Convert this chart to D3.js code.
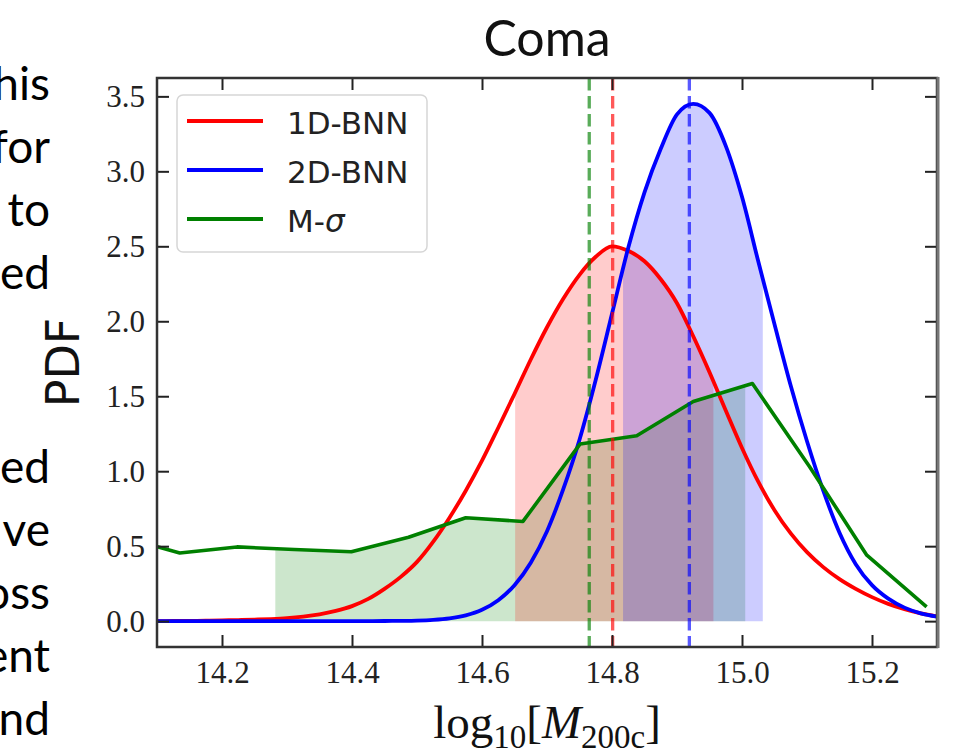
<!DOCTYPE html>
<html>
<head>
<meta charset="utf-8">
<script src="https://cdn.jsdelivr.net/npm/d3@7"></script>
<style>
  html, body { margin: 0; padding: 0; background: #fff; overflow: hidden; }
  svg { display: block; }
</style>
</head>
<body>
<svg id="chart" width="968" height="752"></svg>
<script>
// ---- data ---------------------------------------------------------------
// log10 mass grid shared by the two network posteriors
const massGrid = [
  14.100, 14.125, 14.150, 14.175, 14.200, 14.225, 14.250, 14.275, 14.300, 14.325,
  14.350, 14.375, 14.400, 14.425, 14.450, 14.475, 14.500, 14.525, 14.550, 14.575,
  14.600, 14.625, 14.650, 14.675, 14.700, 14.725, 14.750, 14.775, 14.800, 14.825,
  14.850, 14.875, 14.900, 14.925, 14.950, 14.975, 15.000, 15.025, 15.050, 15.075,
  15.100, 15.125, 15.150, 15.175, 15.200, 15.225, 15.250, 15.275, 15.300
];
// 1D-BNN posterior density
const pdf1D = [
  0.000, 0.001, 0.002, 0.003, 0.005, 0.007, 0.010, 0.014, 0.020, 0.030,
  0.045, 0.068, 0.100, 0.148, 0.215, 0.295, 0.395, 0.530, 0.690, 0.870,
  1.070, 1.290, 1.515, 1.745, 1.960, 2.150, 2.310, 2.430, 2.500, 2.470,
  2.400, 2.280, 2.120, 1.900, 1.660, 1.405, 1.155, 0.930, 0.740, 0.585,
  0.460, 0.360, 0.280, 0.215, 0.160, 0.115, 0.080, 0.052, 0.032
];
// 2D-BNN posterior density
const pdf2D = [
  0.000, 0.000, 0.000, 0.000, 0.000, 0.000, 0.000, 0.000, 0.000, 0.000,
  0.000, 0.000, 0.000, 0.000, 0.001, 0.002, 0.004, 0.009, 0.019, 0.039,
  0.076, 0.140, 0.240, 0.390, 0.600, 0.880, 1.210, 1.610, 2.050, 2.490,
  2.860, 3.150, 3.380, 3.450, 3.390, 3.170, 2.830, 2.400, 1.980, 1.570,
  1.200, 0.870, 0.590, 0.380, 0.240, 0.150, 0.090, 0.052, 0.030
];
// M-sigma scaling relation: binned density
const msigmaMass = [14.047, 14.135, 14.223, 14.311, 14.399, 14.487, 14.575, 14.663,
                    14.751, 14.838, 14.925, 15.016, 15.104, 15.192, 15.284];
const msigmaPdf  = [0.560, 0.455, 0.495, 0.478, 0.463, 0.560, 0.690, 0.665,
                    1.182, 1.236, 1.465, 1.585, 1.030, 0.440, 0.095];

// credible intervals [low, high] and point estimates
const band1D = [14.651, 14.956];
const band2D = [14.817, 15.032];
const bandMsigma = [14.282, 15.005];
const median1D = 14.801;
const median2D = 14.919;
const medianMsigma = 14.765;

const seriesNames = ["1D-BNN", "2D-BNN", "M-\u03c3"];
const xTicks = [14.2, 14.4, 14.6, 14.8, 15.0, 15.2];
const yTicks = [0.0, 0.5, 1.0, 1.5, 2.0, 2.5, 3.0, 3.5];
const xDomain = [14.1, 15.3];
const yDomain = [-0.1725, 3.6225];

// surrounding slide text (right-hand ends of justified lines)
const sideWordsTop = ["his", "for", "to", "ed"];
const sideWordsBottom = ["ed", "ve", "oss", "ent", "nd"];

// ---- layout -------------------------------------------------------------
const svg = d3.select("#chart");
const L = 157, R = 937, T = 78, B = 647;
const x = d3.scaleLinear().domain(xDomain).range([L, R]);
const y = d3.scaleLinear().domain(yDomain).range([B, T]);

const RED = "#ff0000", BLUE = "#0000ff", GREEN = "#008000";
const serif = "'Liberation Serif', 'Times New Roman', serif";
const sans = "'DejaVu Sans', sans-serif";
const slideFont = "Lato, 'Open Sans', sans-serif";

// side text
const side = svg.append("g").attr("font-family", slideFont).attr("font-size", 46)
  .attr("fill", "#000").attr("text-anchor", "end");
sideWordsTop.forEach((w, i) => side.append("text").attr("x", 50).attr("y", 100 + i * 63).text(w));
sideWordsBottom.forEach((w, i) => side.append("text").attr("x", 50).attr("y", 483 + i * 63).text(w));

// title
svg.append("text").attr("x", (L + R) / 2).attr("y", 56).attr("text-anchor", "middle")
  .attr("font-family", slideFont).attr("font-size", 50).attr("fill", "#111").text("Coma");

const defs = svg.append("defs");
defs.append("clipPath").attr("id", "plotClip").append("rect")
  .attr("x", L).attr("y", T).attr("width", R - L).attr("height", B - T);
function bandClip(id, band) {
  defs.append("clipPath").attr("id", id).append("rect")
    .attr("x", x(band[0])).attr("y", T).attr("width", x(band[1]) - x(band[0])).attr("height", B - T);
}
bandClip("clipMsigma", bandMsigma);
bandClip("clip1D", band1D);
bandClip("clip2D", band2D);

const grid1D = massGrid.map((m, i) => ({ m, p: pdf1D[i] }));
const grid2D = massGrid.map((m, i) => ({ m, p: pdf2D[i] }));
const gridMs = msigmaMass.map((m, i) => ({ m, p: msigmaPdf[i] }));

const smoothArea = d3.area().x(d => x(d.m)).y0(y(0)).y1(d => y(d.p)).curve(d3.curveMonotoneX);
const linArea = d3.area().x(d => x(d.m)).y0(y(0)).y1(d => y(d.p)).curve(d3.curveLinear);
const smoothLine = d3.line().x(d => x(d.m)).y(d => y(d.p)).curve(d3.curveMonotoneX);
const linLine = d3.line().x(d => x(d.m)).y(d => y(d.p)).curve(d3.curveLinear);

const plot = svg.append("g").attr("clip-path", "url(#plotClip)");

// shaded credible intervals
plot.append("g").attr("clip-path", "url(#clipMsigma)").append("path")
  .attr("d", linArea(gridMs)).attr("fill", GREEN).attr("fill-opacity", 0.2);
plot.append("g").attr("clip-path", "url(#clip1D)").append("path")
  .attr("d", smoothArea(grid1D)).attr("fill", RED).attr("fill-opacity", 0.2);
plot.append("g").attr("clip-path", "url(#clip2D)").append("path")
  .attr("d", smoothArea(grid2D)).attr("fill", BLUE).attr("fill-opacity", 0.2);

// density curves
plot.append("path").attr("d", smoothLine(grid1D)).attr("fill", "none")
  .attr("stroke", RED).attr("stroke-width", 3.8).attr("stroke-linejoin", "round");
plot.append("path").attr("d", smoothLine(grid2D)).attr("fill", "none")
  .attr("stroke", BLUE).attr("stroke-width", 3.8).attr("stroke-linejoin", "round");
plot.append("path").attr("d", linLine(gridMs)).attr("fill", "none")
  .attr("stroke", GREEN).attr("stroke-width", 3.6).attr("stroke-linejoin", "round");

// point estimates
[[medianMsigma, GREEN], [median1D, RED], [median2D, BLUE]].forEach(([m, c]) => {
  plot.append("line").attr("x1", x(m)).attr("x2", x(m)).attr("y1", T).attr("y2", B)
    .attr("stroke", c).attr("stroke-opacity", 0.65).attr("stroke-width", 3.3)
    .attr("stroke-dasharray", "12.5,5.5");
});

// axes (inward ticks on all four sides)
const fmt = d3.format(".1f");
const axB = svg.append("g").attr("transform", `translate(0,${B})`)
  .call(d3.axisBottom(x).tickValues(xTicks).tickFormat(fmt).tickSize(-12).tickPadding(14));
const axL = svg.append("g").attr("transform", `translate(${L},0)`)
  .call(d3.axisLeft(y).tickValues(yTicks).tickFormat(fmt).tickSize(-12).tickPadding(12));
const axT = svg.append("g").attr("transform", `translate(0,${T})`)
  .call(d3.axisTop(x).tickValues(xTicks).tickFormat("").tickSize(-12));
const axR = svg.append("g").attr("transform", `translate(${R},0)`)
  .call(d3.axisRight(y).tickValues(yTicks).tickFormat("").tickSize(-12));
[axB, axL, axT, axR].forEach(a => {
  a.select(".domain").remove();
  a.selectAll(".tick line").attr("stroke", "#222").attr("stroke-width", 2);
  a.selectAll(".tick text").attr("font-family", serif).attr("font-size", 31).attr("fill", "#222");
});
axL.selectAll(".tick text").attr("dy", "0.34em");

// frame
svg.append("rect").attr("x", L).attr("y", T).attr("width", R - L).attr("height", B - T)
  .attr("fill", "none").attr("stroke", "#333").attr("stroke-width", 2.5);
svg.append("line").attr("x1", R + 1).attr("x2", R + 1).attr("y1", T - 1).attr("y2", B + 1)
  .attr("stroke", "#777").attr("stroke-width", 3);

// axis labels
svg.append("text").attr("transform", `translate(79,${(T + B) / 2}) rotate(-90)`)
  .attr("text-anchor", "middle").attr("font-family", sans).attr("font-size", 46)
  .attr("fill", "#111").text("PDF");

const xl = svg.append("text").attr("x", (L + R) / 2).attr("y", 738).attr("text-anchor", "middle")
  .attr("font-family", serif).attr("font-size", 47).attr("fill", "#111");
xl.append("tspan").text("log");
xl.append("tspan").attr("font-size", 33).attr("dy", 10).text("10");
xl.append("tspan").attr("dy", -10).text("[");
xl.append("tspan").attr("font-style", "italic").text("M");
xl.append("tspan").attr("font-size", 33).attr("dy", 10).text("200c");
xl.append("tspan").attr("dy", -10).text("]");

// legend
const leg = svg.append("g");
leg.append("rect").attr("x", 177).attr("y", 95).attr("width", 250).attr("height", 157)
  .attr("rx", 6).attr("fill", "#fff").attr("fill-opacity", 0.8)
  .attr("stroke", "#d6d6d6").attr("stroke-width", 1.5);
[RED, BLUE, GREEN].forEach((c, i) => {
  const ly = 121 + i * 49;
  leg.append("line").attr("x1", 187).attr("x2", 263).attr("y1", ly).attr("y2", ly)
    .attr("stroke", c).attr("stroke-width", 3.8);
  const t = leg.append("text").attr("x", 287).attr("y", ly + 13)
    .attr("font-family", sans).attr("font-size", 31).attr("fill", "#222");
  if (i < 2) {
    t.text(seriesNames[i]);
  } else {
    t.append("tspan").text(seriesNames[i].slice(0, 2));
    t.append("tspan").attr("font-style", "italic").text(seriesNames[i].slice(2));
  }
});
</script>
</body>
</html>
